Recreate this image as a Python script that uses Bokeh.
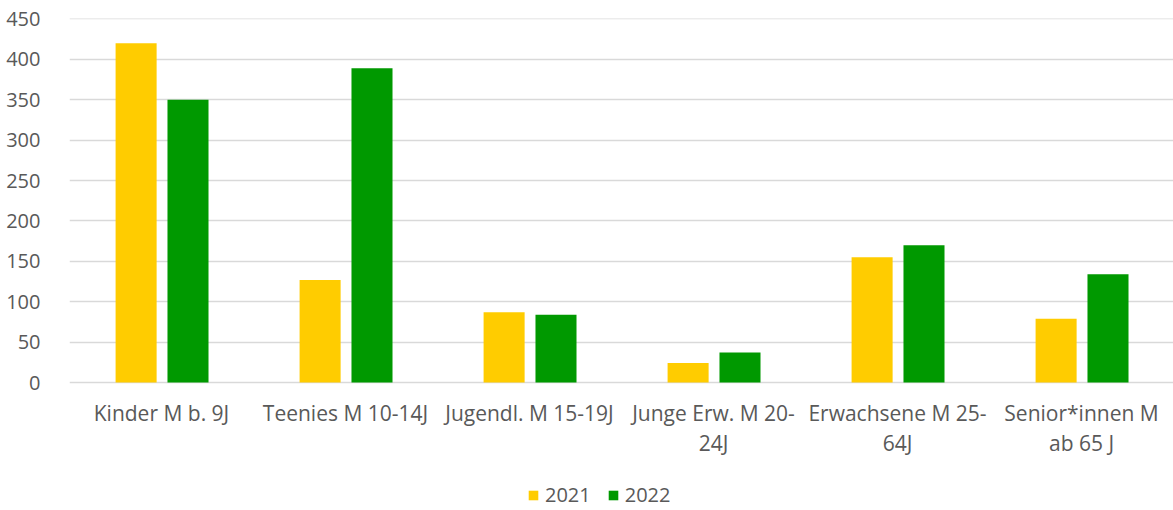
from bokeh.plotting import figure
from bokeh.models import FactorRange, Range1d, FixedTicker, Legend, LegendItem, ColumnDataSource
from bokeh.core.properties import value
from bokeh.transform import dodge
from bokeh.embed import file_html
from bokeh.resources import INLINE

categories = ["Kinder M b. 9J", "Teenies M 10-14J", "Jugendl. M 15-19J",
              "Junge Erw. M 20-24J", "Erwachsene M 25-64J", "Senior*innen M ab 65 J"]
label_line1 = ["Kinder M b. 9J", "Teenies M 10-14J", "Jugendl. M 15-19J",
               "Junge Erw. M 20-", "Erwachsene M 25-", "Senior*innen M"]
label_line2 = ["", "", "", "24J", "64J", "ab 65 J"]
values_2021 = [420, 127, 87, 24, 155, 79]
values_2022 = [350, 389, 84, 37, 170, 134]
series_names = ["2021", "2022"]
y_ticks = [0, 50, 100, 150, 200, 250, 300, 350, 400, 450]

FONT = "Open Sans"
TXT = "#595959"
GRID = "#d9d9d9"

source = ColumnDataSource(dict(cat=categories, y2021=values_2021, y2022=values_2022,
                               l1=label_line1, l2=label_line2))

# frame extends to the bottom of the picture so labels and legend live inside it
PX_PER_UNIT = 364 / 450.5
FRAME_H = 492
y_min = 450.5 - FRAME_H / PX_PER_UNIT

p = figure(x_range=FactorRange(*categories), y_range=Range1d(y_min, 450.5),
           frame_width=1104, frame_height=FRAME_H,
           min_border_left=69, min_border_right=0, min_border_top=18, min_border_bottom=0,
           output_backend="svg", toolbar_location=None)
p.x_range.range_padding = 0

r1 = p.vbar(x=dodge("cat", -0.138, range=p.x_range), top="y2021", width=0.223,
            source=source, fill_color="#FFCC00", line_color=None)
r2 = p.vbar(x=dodge("cat", 0.144, range=p.x_range), top="y2022", width=0.223,
            source=source, fill_color="#009900", line_color=None)

# category labels (two lines) below the zero line
p.text(x="cat", y=-30 / PX_PER_UNIT, text="l1", source=source,
       text_font=value(FONT), text_font_size="21px", text_color=TXT,
       text_align="center", text_baseline="middle")
p.text(x="cat", y=-60 / PX_PER_UNIT, text="l2", source=source,
       text_font=value(FONT), text_font_size="21px", text_color=TXT,
       text_align="center", text_baseline="middle")

p.outline_line_color = None
p.xgrid.grid_line_color = None
p.ygrid.grid_line_color = GRID
p.ygrid.grid_line_width = 1.3
p.yaxis.ticker = FixedTicker(ticks=y_ticks)
p.yaxis.axis_line_color = None
p.yaxis.major_tick_line_color = None
p.yaxis.minor_tick_line_color = None
p.yaxis.major_label_standoff = 23
p.yaxis.major_label_text_font = FONT
p.yaxis.major_label_text_font_size = "20px"
p.yaxis.major_label_text_color = TXT

p.xaxis.visible = False

legend = Legend(items=[LegendItem(label=series_names[0], renderers=[r1]),
                       LegendItem(label=series_names[1], renderers=[r2])],
                orientation="horizontal", location=(458, 2),
                glyph_width=12, glyph_height=12, label_standoff=6, spacing=16,
                padding=0, margin=0, border_line_color=None, background_fill_alpha=0,
                label_text_font=FONT, label_text_font_size="20px", label_text_color=TXT)
p.add_layout(legend, "center")

open("out.html", "w").write(file_html(p, INLINE))
